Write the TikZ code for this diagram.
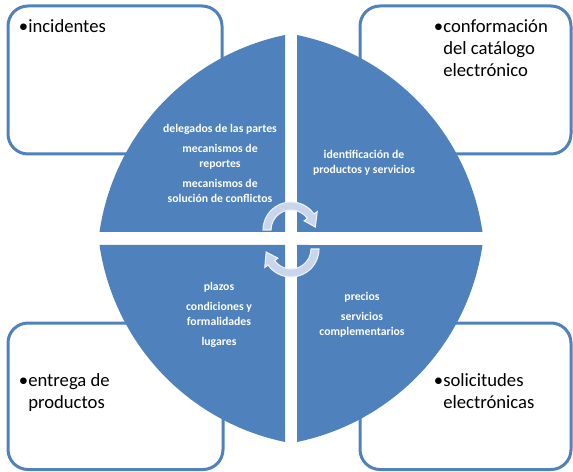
\documentclass[tikz,border=0pt]{standalone}
\usepackage{fontspec}
\setmainfont{Carlito}
\definecolor{ofblue}{HTML}{4F81BD}
\definecolor{arrfill}{HTML}{C9D5EA}
\definecolor{arredge}{HTML}{EEF2F9}
\begin{document}
\begin{tikzpicture}[x=0.75pt,y=0.75pt,
  cornerbox/.style={draw=ofblue, line width=2.25pt, fill=white, rounded corners=15pt},
  quad/.style={fill=ofblue},
  cycarrow/.style={fill=arrfill, draw=arredge, line width=0.8pt},
  outertext/.style={font=\fontsize{14}{16.5}\selectfont, align=left, inner sep=0pt, anchor=base west},
  innertext/.style={font=\bfseries\fontsize{8.8}{11.25}\selectfont, text=white, align=center, inner sep=0pt}]
\useasboundingbox (0,0) rectangle (573,471);
% corner boxes
\draw[cornerbox] (8,317) rectangle (222,465);
\draw[cornerbox] (360,317) rectangle (571,465);
\draw[cornerbox] (8,1.5) rectangle (223,148);
\draw[cornerbox] (360,1.5) rectangle (571,148);
% quadrants
\begin{scope}[shift={(291,232.5)}]
\fill[quad] (-6,6.5) -- (-6,203.5) arc[start angle=101.74,end angle=171.7,radius=236] -- cycle;
\fill[quad] (6,6.5) -- (191.5,6.5) arc[start angle=8.3,end angle=78.26,radius=236] -- cycle;
\fill[quad] (-6,-6.5) -- (-191.5,-6.5) arc[start angle=188.3,end angle=258.26,radius=236] -- cycle;
\fill[quad] (6,-6.5) -- (6,-203.5) arc[start angle=281.74,end angle=351.7,radius=236] -- cycle;
\end{scope}
% cycle arrows
\begin{scope}[shift={(291,241)}]
\path[cycarrow] (180:28) arc[start angle=180,end angle=35,radius=28] -- (35:32) -- (7:24.5) -- (35:16) -- (35:20) arc[start angle=35,end angle=180,radius=20] -- cycle;
\end{scope}
\begin{scope}[shift={(291,222)}]
\path[cycarrow] (0:28) arc[start angle=0,end angle=-145,radius=28] -- (-145:32) -- (-173:25) -- (-145:16) -- (-145:20) arc[start angle=-145,end angle=0,radius=20] -- cycle;
\end{scope}
% corner texts (base = baseline of last line)
\node[outertext] (incid) at (28,438) {\llap{•}incidentes};
\node[outertext] (conf) at (443,394) {\llap{•}conformación\\del catálogo\\electrónico};
\node[outertext] (entr) at (28,63) {\llap{•}entrega de\\productos};
\node[outertext] (soli) at (443,63) {\llap{•}solicitudes\\electrónicas};
% inner texts
\node[innertext] (tl) at (220,308) {delegados de las partes\\[3.75pt]mecanismos de\\reportes\\[3.75pt]mecanismos de\\solución de conflictos};
\node[innertext] (tr) at (364,308.5) {identificación de\\productos y servicios};
\node[innertext] (bl) at (219,156) {plazos\\[3.75pt]condiciones y\\formalidades\\[3.75pt]lugares};
\node[innertext] (br) at (362,156.5) {precios\\[3.75pt]servicios\\complementarios};
\end{tikzpicture}
\end{document}
